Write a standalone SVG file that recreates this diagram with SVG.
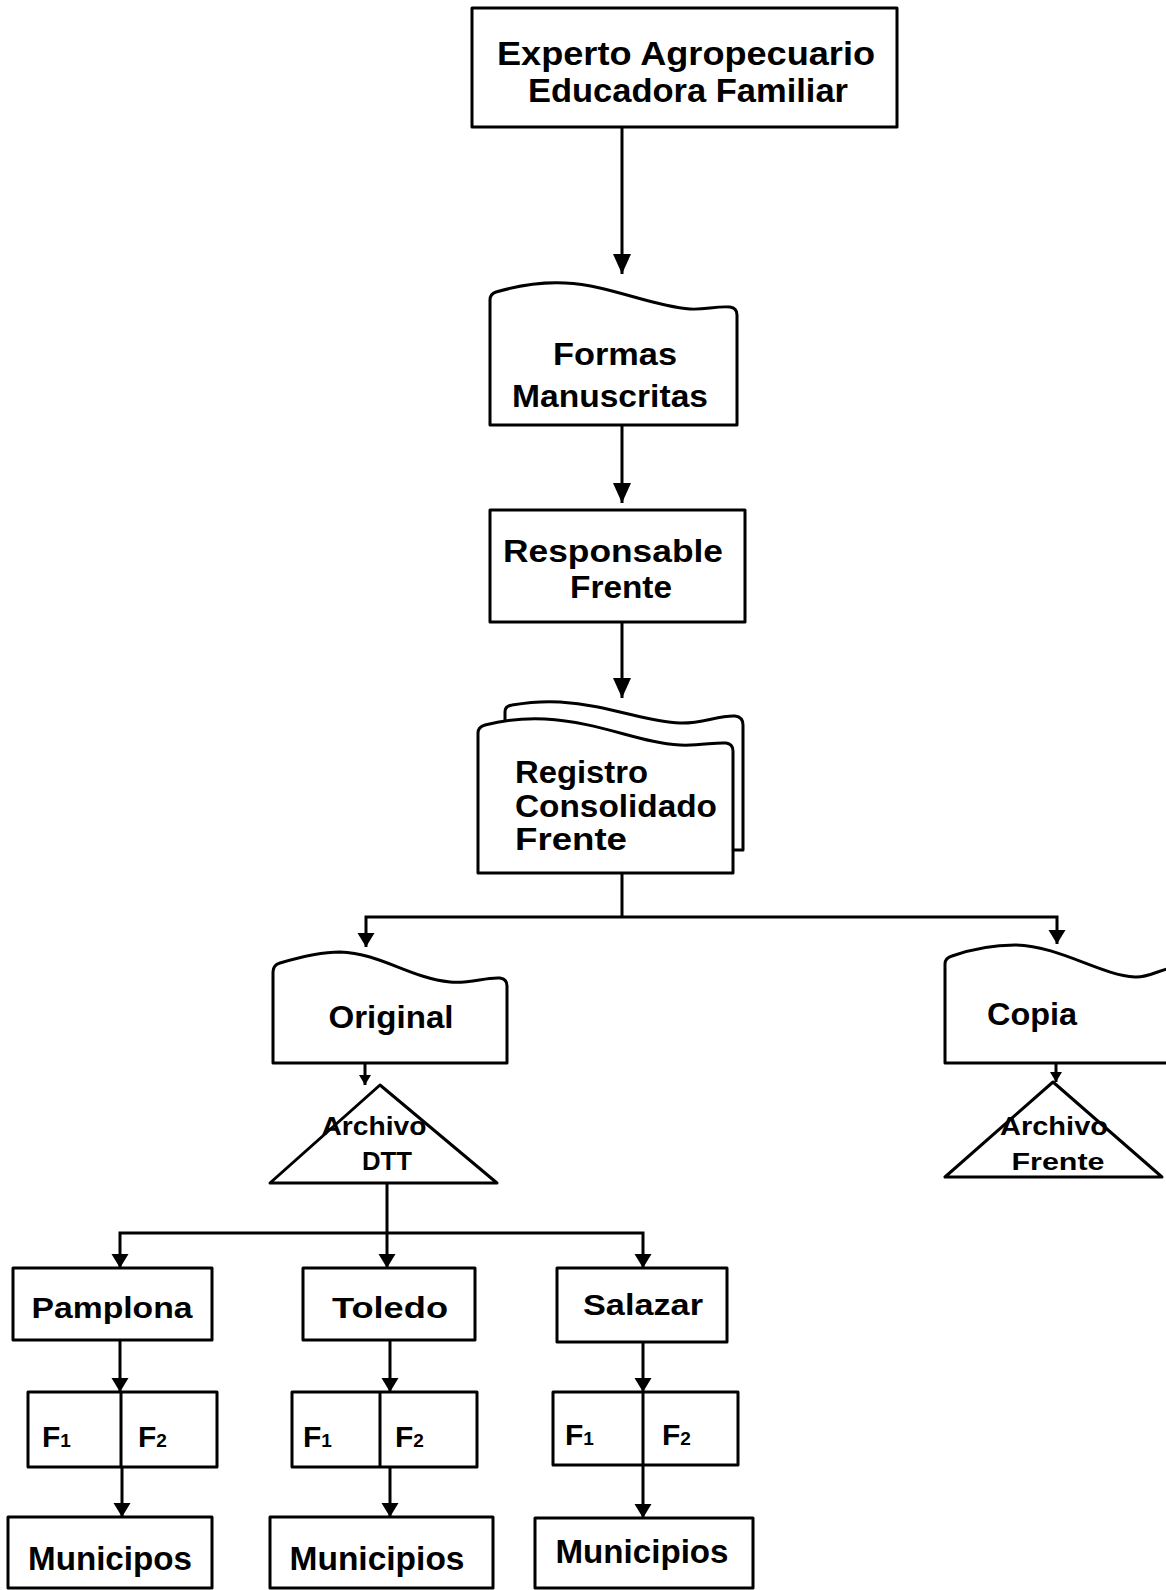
<svg xmlns="http://www.w3.org/2000/svg" width="1166" height="1590" viewBox="0 0 1166 1590">
<style>
  .shape { fill: #fff; stroke: #000; stroke-width: 3; stroke-linejoin: round; }
  .conn { fill: none; stroke: #000; stroke-width: 3; }
  .lbl { font-family: "Liberation Sans", Arial, sans-serif; font-weight: bold; fill: #000; }
  .c { text-anchor: middle; }
</style>
<defs>
  <marker id="big" markerUnits="userSpaceOnUse" markerWidth="20" markerHeight="20" refX="20" refY="9" orient="auto">
    <path d="M0,0 L20,9 L0,18 Z" fill="#000"/>
  </marker>
  <marker id="mid" markerUnits="userSpaceOnUse" markerWidth="16" markerHeight="18" refX="14" refY="8.5" orient="auto">
    <path d="M0,0 L14,8.5 L0,17 Z" fill="#000"/>
  </marker>
  <marker id="small" markerUnits="userSpaceOnUse" markerWidth="12" markerHeight="12" refX="10" refY="6" orient="auto">
    <path d="M0,0 L10,6 L0,12 Z" fill="#000"/>
  </marker>
</defs>
<rect width="1166" height="1590" fill="#fff"/>

<g id="connectors">
  <path class="conn" d="M622,127 V274" marker-end="url(#big)"/>
  <path class="conn" d="M622,426 V503" marker-end="url(#big)"/>
  <path class="conn" d="M622,622 V698" marker-end="url(#big)"/>
  <path class="conn" d="M622,873 V917"/>
  <path class="conn" d="M622,917 H366 V947" marker-end="url(#mid)"/>
  <path class="conn" d="M622,917 H1057 V944" marker-end="url(#mid)"/>
  <path class="conn" d="M365,1063 V1085" marker-end="url(#small)"/>
  <path class="conn" d="M1056,1063 V1082" marker-end="url(#small)"/>
  <path class="conn" d="M387,1183 V1268" marker-end="url(#mid)"/>
  <path class="conn" d="M387,1233 H120 V1268" marker-end="url(#mid)"/>
  <path class="conn" d="M387,1233 H643 V1268" marker-end="url(#mid)"/>
  <path class="conn" d="M120,1340 V1392" marker-end="url(#mid)"/>
  <path class="conn" d="M122,1467 V1517" marker-end="url(#mid)"/>
  <path class="conn" d="M390,1340 V1392" marker-end="url(#mid)"/>
  <path class="conn" d="M390,1467 V1517" marker-end="url(#mid)"/>
  <path class="conn" d="M643,1342 V1392" marker-end="url(#mid)"/>
  <path class="conn" d="M643,1465 V1518" marker-end="url(#mid)"/>
</g>

<g id="experto">
  <rect class="shape" x="472" y="8" width="425" height="119"/>
  <text class="lbl c" x="686" y="65" font-size="33" textLength="378" lengthAdjust="spacingAndGlyphs">Experto Agropecuario</text>
  <text class="lbl c" x="688" y="102" font-size="33" textLength="320" lengthAdjust="spacingAndGlyphs">Educadora Familiar</text>
</g>

<g id="formas">
  <path class="shape" d="M490,425 V300 Q490,294 496,292 C520,285 545,282 565,283 C610,285 650,306 690,309 C705,310 715,306 730,307 Q737,308 737,315 V425 Z"/>
  <text class="lbl c" x="615" y="365" font-size="31" textLength="124" lengthAdjust="spacingAndGlyphs">Formas</text>
  <text class="lbl c" x="610" y="407" font-size="31" textLength="196" lengthAdjust="spacingAndGlyphs">Manuscritas</text>
</g>

<g id="responsable">
  <rect class="shape" x="490" y="510" width="255" height="112"/>
  <text class="lbl c" x="613" y="562" font-size="32" textLength="220" lengthAdjust="spacingAndGlyphs">Responsable</text>
  <text class="lbl c" x="621" y="598" font-size="32" textLength="102" lengthAdjust="spacingAndGlyphs">Frente</text>
</g>

<g id="registro">
  <path class="shape" d="M505,760 V712 Q505,706 512,705 C530,702 545,701 560,702 C610,705 645,722 680,723 C700,724 720,715 735,716 Q743,717 743,725 V850 H700 V760 Z"/>
  <path class="shape" d="M478,873 V733 Q478,727 485,725 C505,720 525,718 545,719 C600,722 640,743 680,745 C700,746 715,742 726,743 Q733,744 733,751 V873 Z"/>
  <text class="lbl" x="515" y="783" font-size="31" textLength="133" lengthAdjust="spacingAndGlyphs">Registro</text>
  <text class="lbl" x="515" y="817" font-size="31" textLength="202" lengthAdjust="spacingAndGlyphs">Consolidado</text>
  <text class="lbl" x="515" y="850" font-size="31" textLength="112" lengthAdjust="spacingAndGlyphs">Frente</text>
</g>

<g id="original">
  <path class="shape" d="M273,1063 V972 Q273,965 280,963 C300,957 320,952 340,952 C380,953 410,978 450,982 C470,984 485,977 500,978 Q507,979 507,986 V1063 Z"/>
  <text class="lbl c" x="391" y="1028" font-size="32" textLength="125" lengthAdjust="spacingAndGlyphs">Original</text>
</g>

<g id="copia">
  <path class="shape" d="M1175,1063 H945 V964 Q945,958 952,956 C975,948 995,945 1015,945 C1060,946 1100,975 1135,977 C1148,978 1158,970 1175,967"/>
  <text class="lbl c" x="1032" y="1025" font-size="32" textLength="90" lengthAdjust="spacingAndGlyphs">Copia</text>
</g>

<g id="archivo-dtt">
  <polygon class="shape" points="380,1085 270,1183 497,1183"/>
  <text class="lbl c" x="374" y="1135" font-size="25" textLength="105" lengthAdjust="spacingAndGlyphs">Archivo</text>
  <text class="lbl c" x="387" y="1170" font-size="25" textLength="50" lengthAdjust="spacingAndGlyphs">DTT</text>
</g>

<g id="archivo-frente">
  <polygon class="shape" points="1053,1082 945,1177 1162,1177"/>
  <text class="lbl c" x="1054" y="1135" font-size="25" textLength="108" lengthAdjust="spacingAndGlyphs">Archivo</text>
  <text class="lbl c" x="1058" y="1170" font-size="23" textLength="93" lengthAdjust="spacingAndGlyphs">Frente</text>
</g>

<g id="pamplona">
  <rect class="shape" x="13" y="1268" width="199" height="72"/>
  <text class="lbl c" x="112" y="1318" font-size="30" textLength="161" lengthAdjust="spacingAndGlyphs">Pamplona</text>
</g>
<g id="toledo">
  <rect class="shape" x="303" y="1268" width="172" height="72"/>
  <text class="lbl c" x="390" y="1318" font-size="30" textLength="116" lengthAdjust="spacingAndGlyphs">Toledo</text>
</g>
<g id="salazar">
  <rect class="shape" x="557" y="1268" width="170" height="74"/>
  <text class="lbl c" x="643" y="1315" font-size="30" textLength="120" lengthAdjust="spacingAndGlyphs">Salazar</text>
</g>

<g id="f-pamplona">
  <rect class="shape" x="28" y="1392" width="189" height="75"/>
  <line class="conn" x1="121" y1="1392" x2="121" y2="1467"/>
  <text class="lbl" x="42" y="1447" font-size="30">F<tspan font-size="19">1</tspan></text>
  <text class="lbl" x="138" y="1447" font-size="30">F<tspan font-size="19">2</tspan></text>
</g>
<g id="f-toledo">
  <rect class="shape" x="292" y="1392" width="185" height="75"/>
  <line class="conn" x1="380" y1="1392" x2="380" y2="1467"/>
  <text class="lbl" x="303" y="1447" font-size="30">F<tspan font-size="19">1</tspan></text>
  <text class="lbl" x="395" y="1447" font-size="30">F<tspan font-size="19">2</tspan></text>
</g>
<g id="f-salazar">
  <rect class="shape" x="553" y="1392" width="185" height="73"/>
  <line class="conn" x1="643" y1="1392" x2="643" y2="1465"/>
  <text class="lbl" x="565" y="1445" font-size="30">F<tspan font-size="19">1</tspan></text>
  <text class="lbl" x="662" y="1445" font-size="30">F<tspan font-size="19">2</tspan></text>
</g>

<g id="municipos-pamplona">
  <rect class="shape" x="8" y="1517" width="204" height="71"/>
  <text class="lbl c" x="110" y="1570" font-size="34" textLength="164" lengthAdjust="spacingAndGlyphs">Municipos</text>
</g>
<g id="municipios-toledo">
  <rect class="shape" x="270" y="1517" width="223" height="71"/>
  <text class="lbl c" x="377" y="1570" font-size="34" textLength="175" lengthAdjust="spacingAndGlyphs">Municipios</text>
</g>
<g id="municipios-salazar">
  <rect class="shape" x="535" y="1518" width="218" height="70"/>
  <text class="lbl c" x="642" y="1563" font-size="34" textLength="173" lengthAdjust="spacingAndGlyphs">Municipios</text>
</g>
</svg>
